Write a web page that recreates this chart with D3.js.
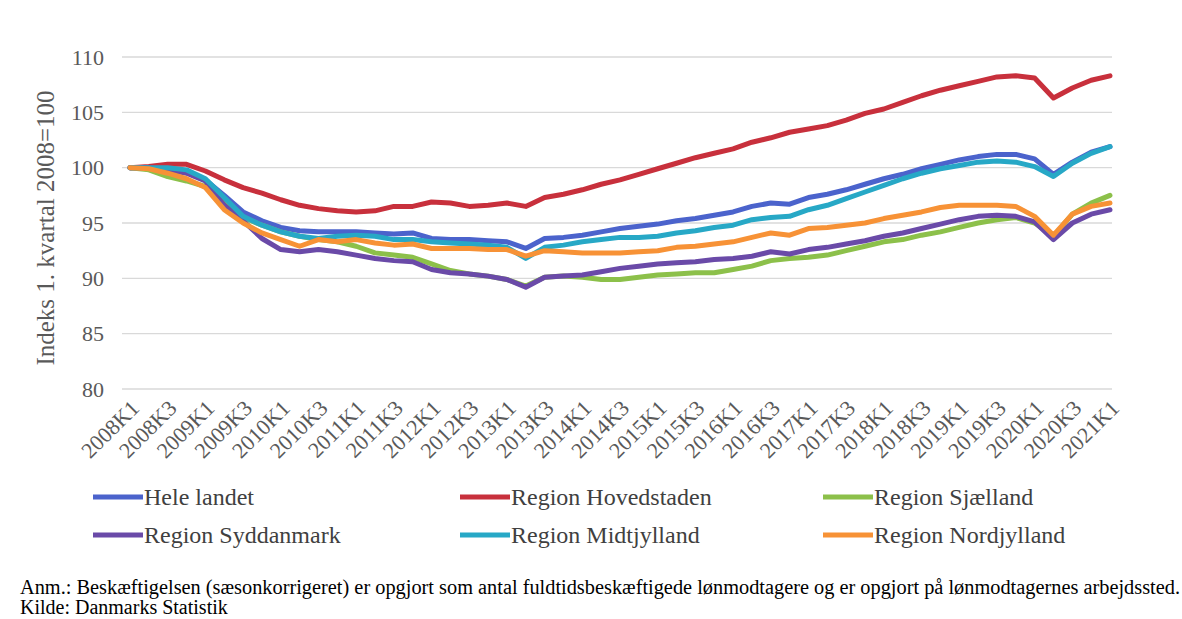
<!DOCTYPE html>
<html>
<head>
<meta charset="utf-8">
<script src="https://cdn.jsdelivr.net/npm/d3@7"></script>
<style>
  body { margin: 0; background: #fff; }
</style>
</head>
<body>
<svg id="chart" width="1182" height="619"></svg>
<script>
// Quarters 2008K1 .. 2021K1
const quarters = [];
for (let y = 2008; y <= 2021; y++) {
  for (let q = 1; q <= 4; q++) {
    if (y === 2021 && q > 1) break;
    quarters.push(y + "K" + q);
  }
}

// Series values, index 1. kvartal 2008 = 100
const heleLandet = [100, 100, 99.9, 99.7, 98.9, 97.5, 96.0, 95.2, 94.6, 94.3,
  94.2, 94.2, 94.2, 94.1, 94.0, 94.1, 93.6, 93.5, 93.5, 93.4,
  93.3, 92.7, 93.6, 93.7, 93.9, 94.2, 94.5, 94.7, 94.9, 95.2,
  95.4, 95.7, 96.0, 96.5, 96.8, 96.7, 97.3, 97.6, 98.0, 98.5,
  99.0, 99.4, 99.9, 100.3, 100.7, 101.0, 101.2, 101.2, 100.8, 99.4,
  100.5, 101.4, 101.9];

const hovedstaden = [100, 100.1, 100.3, 100.3, 99.7, 98.9, 98.2, 97.7, 97.1, 96.6,
  96.3, 96.1, 96.0, 96.1, 96.5, 96.5, 96.9, 96.8, 96.5, 96.6,
  96.8, 96.5, 97.3, 97.6, 98.0, 98.5, 98.9, 99.4, 99.9, 100.4,
  100.9, 101.3, 101.7, 102.3, 102.7, 103.2, 103.5, 103.8, 104.3, 104.9,
  105.3, 105.9, 106.5, 107.0, 107.4, 107.8, 108.2, 108.3, 108.1, 106.3,
  107.2, 107.9, 108.3];

const sjaelland = [100, 99.8, 99.2, 98.8, 98.3, 96.8, 95.5, 94.8, 94.2, 93.8,
  93.5, 93.3, 92.9, 92.3, 92.1, 91.9, 91.3, 90.7, 90.4, 90.2,
  89.9, 89.3, 90.1, 90.2, 90.1, 89.9, 89.9, 90.1, 90.3, 90.4,
  90.5, 90.5, 90.8, 91.1, 91.6, 91.8, 91.9, 92.1, 92.5, 92.9,
  93.3, 93.5, 93.9, 94.2, 94.6, 95.0, 95.3, 95.5, 95.0, 93.8,
  95.8, 96.8, 97.5];

const syddanmark = [100, 100, 99.8, 99.5, 98.8, 96.6, 95.2, 93.6, 92.6, 92.4,
  92.6, 92.4, 92.1, 91.8, 91.6, 91.5, 90.8, 90.5, 90.4, 90.2,
  89.9, 89.2, 90.1, 90.2, 90.3, 90.6, 90.9, 91.1, 91.3, 91.4,
  91.5, 91.7, 91.8, 92.0, 92.4, 92.2, 92.6, 92.8, 93.1, 93.4,
  93.8, 94.1, 94.5, 94.9, 95.3, 95.6, 95.7, 95.6, 95.1, 93.5,
  95.0, 95.8, 96.2];

const midtjylland = [100, 100, 100, 99.8, 99.0, 97.3, 95.6, 94.8, 94.2, 93.8,
  93.6, 93.8, 93.9, 93.8, 93.5, 93.5, 93.3, 93.2, 93.1, 93.0,
  92.8, 91.8, 92.8, 93.0, 93.3, 93.5, 93.7, 93.7, 93.8, 94.1,
  94.3, 94.6, 94.8, 95.3, 95.5, 95.6, 96.2, 96.6, 97.2, 97.8,
  98.4, 99.0, 99.5, 99.9, 100.2, 100.5, 100.6, 100.5, 100.1, 99.2,
  100.4, 101.3, 101.9];

const nordjylland = [100, 99.9, 99.5, 99.0, 98.2, 96.2, 95.0, 94.1, 93.5, 92.9,
  93.5, 93.3, 93.5, 93.2, 93.0, 93.1, 92.7, 92.7, 92.7, 92.6,
  92.6, 92.0, 92.5, 92.4, 92.3, 92.3, 92.3, 92.4, 92.5, 92.8,
  92.9, 93.1, 93.3, 93.7, 94.1, 93.9, 94.5, 94.6, 94.8, 95.0,
  95.4, 95.7, 96.0, 96.4, 96.6, 96.6, 96.6, 96.5, 95.6, 93.9,
  95.8, 96.5, 96.8];

const seriesNames = ["Hele landet", "Region Hovedstaden", "Region Sjælland",
  "Region Syddanmark", "Region Midtjylland", "Region Nordjylland"];
const seriesValues = [heleLandet, hovedstaden, sjaelland, syddanmark, midtjylland, nordjylland];
const seriesColors = ["#4b63cc", "#c8303c", "#8cc04a", "#6a4aa8", "#27a8c6", "#f79236"];

const yTicks = [80, 85, 90, 95, 100, 105, 110];
const xTickLabels = quarters.filter((d, i) => i % 2 === 0);

const footnote = "Anm.: Beskæftigelsen (sæsonkorrigeret) er opgjort som antal fuldtidsbeskæftigede lønmodtagere og er opgjort på lønmodtagernes arbejdssted.";
const source = "Kilde: Danmarks Statistik";

const serif = "'Liberation Serif', 'Times New Roman', 'DejaVu Serif', serif";

const svg = d3.select("#chart")
  .style("font-family", serif);

// Scales
const x = d3.scalePoint().domain(quarters).range([130, 1110]);
const y = d3.scaleLinear().domain([80, 110]).range([389, 57]);

// Gridlines
svg.append("g")
  .selectAll("line")
  .data(yTicks)
  .enter()
  .append("line")
    .attr("x1", 122)
    .attr("x2", 1112)
    .attr("y1", d => y(d))
    .attr("y2", d => y(d))
    .attr("stroke", "#d9d9d9")
    .attr("stroke-width", 1.3);

// Y axis labels
svg.append("g")
  .selectAll("text")
  .data(yTicks)
  .enter()
  .append("text")
    .attr("x", 104)
    .attr("y", d => y(d))
    .attr("dy", "0.35em")
    .attr("text-anchor", "end")
    .attr("fill", "#595959")
    .style("font-family", serif)
    .style("font-size", "22px")
    .text(d => d);

// Y axis title
svg.append("text")
  .attr("transform", "translate(54,228) rotate(-90)")
  .attr("text-anchor", "middle")
  .attr("fill", "#595959")
  .style("font-family", serif)
  .style("font-size", "25px")
  .text("Indeks 1. kvartal 2008=100");

// X axis labels, rotated
svg.append("g")
  .selectAll("text")
  .data(xTickLabels)
  .enter()
  .append("text")
    .attr("transform", d => "translate(" + (x(d) + 5) + ",404) rotate(-45)")
    .attr("text-anchor", "end")
    .attr("dy", "0.35em")
    .attr("fill", "#595959")
    .style("font-family", serif)
    .style("font-size", "22px")
    .text(d => d);

// Lines
const line = d3.line()
  .x((d, i) => x(quarters[i]))
  .y(d => y(d));

svg.append("g")
  .selectAll("path")
  .data(seriesValues)
  .enter()
  .append("path")
    .attr("d", d => line(d))
    .attr("fill", "none")
    .attr("stroke", (d, i) => seriesColors[i])
    .attr("stroke-width", 5)
    .attr("stroke-linejoin", "round")
    .attr("stroke-linecap", "round");

// Legend: 3 columns x 2 rows
const legendCols = [93, 460, 823];
const legendRows = [497, 535];
const legend = svg.append("g")
  .selectAll("g")
  .data(seriesNames)
  .enter()
  .append("g")
    .attr("transform", (d, i) => "translate(" + legendCols[i % 3] + "," + legendRows[Math.floor(i / 3)] + ")");

legend.append("line")
  .attr("x1", 0)
  .attr("x2", 50)
  .attr("stroke", (d, i) => seriesColors[i])
  .attr("stroke-width", 5);

legend.append("text")
  .attr("x", 51)
  .attr("dy", "0.35em")
  .attr("fill", "#404040")
  .style("font-family", serif)
  .style("font-size", "24px")
  .text(d => d);

// Footnote and source
svg.append("text")
  .attr("x", 20)
  .attr("y", 594)
  .attr("fill", "#000")
  .style("font-family", serif)
  .style("font-size", "20px")
  .attr("textLength", 1160)
  .attr("lengthAdjust", "spacingAndGlyphs")
  .text(footnote);

svg.append("text")
  .attr("x", 20)
  .attr("y", 614)
  .attr("fill", "#000")
  .style("font-family", serif)
  .style("font-size", "20px")
  .text(source);
</script>
</body>
</html>
